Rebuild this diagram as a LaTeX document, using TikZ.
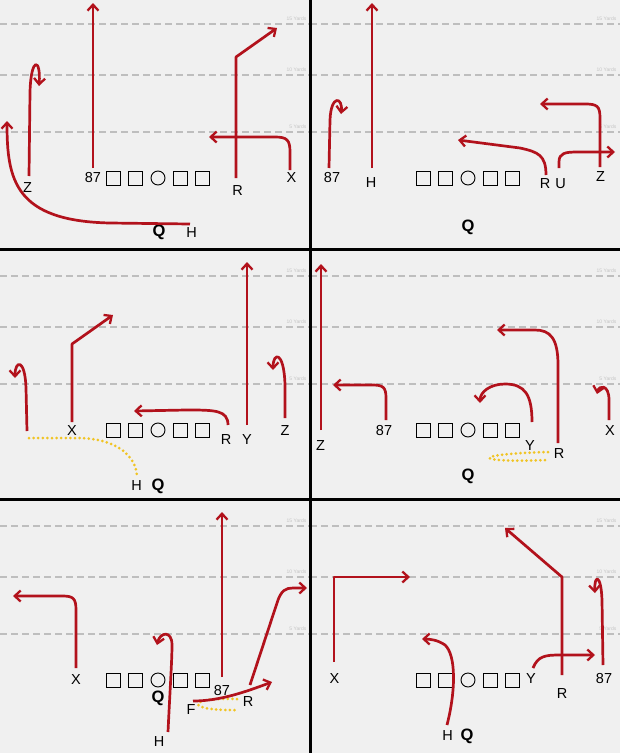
\documentclass[tikz,border=0pt]{standalone}
\usepackage{fontspec}
\setmainfont{Liberation Sans}
\usetikzlibrary{arrows.meta}
\definecolor{routered}{RGB}{178,18,28}
\definecolor{yardgray}{RGB}{190,190,190}
\definecolor{fieldbg}{RGB}{240,240,240}
\definecolor{motionyel}{RGB}{240,196,36}
\definecolor{yardtxt}{RGB}{196,196,196}
\tikzset{
  rte/.style={draw=routered, line width=2.7pt, line join=round,
    -{Straight Barb[length=6pt,width=11pt,line width=2.3pt]}},
  yard/.style={draw=yardgray, line width=2.4pt, dash pattern=on 7pt off 4pt},
  yardlbl/.style={text=yardtxt, font=\fontsize{5}{5}\selectfont, anchor=south east, inner sep=0pt},
  lbox/.style={draw=black, line width=0.9pt, minimum size=14pt, inner sep=0pt, fill=fieldbg},
  lcirc/.style={draw=black, line width=0.9pt, circle, minimum size=14pt, inner sep=0pt, fill=fieldbg},
  player/.style={font=\fontsize{14.5}{14.5}\selectfont, inner sep=0pt},
  qb/.style={font=\fontsize{16.5}{16.5}\bfseries\selectfont, inner sep=0pt},
  motion/.style={draw=motionyel, line width=3pt, dash pattern=on 0pt off 4.6pt, line cap=round},
  divider/.style={draw=black, line width=3pt}
}
\newcommand\fieldpanel[3]{%
  \begin{scope}[shift={(#1,#2)}, name prefix=#3-]
    \foreach \yy/\lab in {24/15,75/10,132/5}{
      \draw[yard] (0,\yy) -- (310,\yy);
      \node[yardlbl] (yl\lab) at (306.5,\yy-3) {\lab\ Yards};
    }
    \node[lbox] (b1) at (113.5,178) {};
    \node[lbox] (b2) at (135.5,178) {};
    \node[lcirc] (c) at (158,178) {};
    \node[lbox] (b4) at (180,178) {};
    \node[lbox] (b5) at (202.5,178) {};
  \end{scope}}
\begin{document}
\begin{tikzpicture}[x=1pt,y=-1pt]
\fill[fieldbg] (0,0) rectangle (620,753);
\useasboundingbox (0,0) rectangle (620,753);
\fieldpanel{0}{0}{pa}
\fieldpanel{310}{0}{pb}
\fieldpanel{0}{252}{pc}
\fieldpanel{310}{252}{pd}
\fieldpanel{0}{502}{pe}
\fieldpanel{310}{502}{pf}

% ---------- panel 1 ----------
\node[player] (a87) at (93,178) {87};
\node[player] (aZ) at (27.5,188) {Z};
\node[player] (aR) at (237.5,191) {R};
\node[player] (aX) at (291.5,178) {X};
\node[qb] (aQ) at (159,232) {Q};
\node[player] (aH) at (191.5,233) {H};
\draw[rte] (93,168) -- (93,3);
\draw[rte] (29,176) -- (30,92) .. controls (31,56) and (41,58) .. (39,86);
\draw[rte] (190,224) -- (110,223) .. controls (15,221) and (7,180) .. (7,121);
\draw[rte] (236,178) -- (236,57) -- (277,28);
\draw[rte] (290,170) -- (290,152) .. controls (290,140) and (287,137) .. (275,137) -- (209,137);

% ---------- panel 2 ----------
\node[player] (b87) at (332,178) {87};
\node[player] (bH) at (371,183) {H};
\node[player] (bR) at (545,184) {R};
\node[player] (bU) at (560.5,184) {U};
\node[player] (bZ) at (600.5,177) {Z};
\node[qb] (bQ) at (468,227) {Q};
\draw[rte] (329,168) -- (330,120) .. controls (331,94) and (343,97) .. (341,114);
\draw[rte] (372,168) -- (372,3);
\draw[rte] (546,175) .. controls (546,155) and (538,152) .. (520,148) -- (458,140);
\draw[rte] (559,168) -- (559,162) .. controls (559,153) and (565,152) .. (578,152) -- (615,152);
\draw[rte] (600,167) -- (600,118) .. controls (600,106) and (597,104) .. (585,104) -- (540,104);

% ---------- panel 3 ----------
\node[player] (cX) at (72,431) {X};
\node[player] (cR) at (226,440) {R};
\node[player] (cY) at (247,440) {Y};
\node[player] (cZ) at (285,431) {Z};
\node[player] (cH) at (136.5,486) {H};
\node[qb] (cQ) at (158,486) {Q};
\draw[motion] (29,438) -- (77,438) .. controls (115,438) and (137,455) .. (137,478);
\draw[rte] (27,431) -- (26,388) .. controls (25,358) and (15,360) .. (15,378);
\draw[rte] (72,422) -- (72,344) -- (113,315);
\draw[rte] (247,425) -- (247,262);
\draw[rte] (228,425) .. controls (228,410) and (215,410) .. (186,410) -- (134,411);
\draw[rte] (285,418) -- (285,385) .. controls (284,350) and (273,352) .. (273,370);

% ---------- panel 4 ----------
\node[player] (dZ) at (320.5,446) {Z};
\node[player] (d87) at (384,431) {87};
\node[player] (dY) at (530,446) {Y};
\node[player] (dR) at (559,454) {R};
\node[player] (dX) at (610,431) {X};
\node[qb] (dQ) at (468,476) {Q};
\draw[motion] (548,452) .. controls (470,454) and (470,463) .. (548,460);
\draw[rte] (321,430) -- (321,264);
\draw[rte] (386,420) -- (386,398) .. controls (386,387) and (383,385) .. (372,385) -- (333,385);
\draw[rte] (532,422) .. controls (532,395) and (525,384) .. (505,384) .. controls (490,384) and (480,392) .. (480,403);
\draw[rte] (558,443) -- (558,365) .. controls (558,338) and (550,330) .. (535,330) -- (497,330);
\draw[rte] (609,420) -- (609,400) .. controls (609,384) and (599,385) .. (597,394);

% ---------- panel 5 ----------
\node[player] (eX) at (76,680) {X};
\node[qb] (eQ) at (158,698) {Q};
\node[player] (e87) at (222,690) {87};
\node[player] (eR) at (248,702) {R};
\node[player] (eF) at (191,710) {F};
\node[player] (eH) at (159,742) {H};
\draw[motion] (237,699) .. controls (185,697) and (185,711) .. (237,710);
\draw[rte] (76,668) -- (76,610) .. controls (76,598) and (73,596) .. (62,596) -- (13,596);
\draw[rte] (222,677) -- (222,512);
\draw[rte] (168,732) .. controls (170,690) and (172,660) .. (172,645) .. controls (172,630) and (160,632) .. (157,645);
\draw[rte] (250,685) -- (277,603) .. controls (281,590) and (286,588) .. (293,588) -- (307,588);
\draw[rte] (193,701) .. controls (220,701) and (245,692) .. (272,682);

% ---------- panel 6 ----------
\node[player] (fX) at (334.5,679) {X};
\node[player] (fY) at (531,679) {Y};
\node[player] (fR) at (562,694) {R};
\node[player] (f87) at (604,678) {87};
\node[player] (fH) at (447.5,736) {H};
\node[qb] (fQ) at (467,736) {Q};
\draw[rte] (334,662) -- (334,577) -- (410,577);
\draw[rte] (447,725) .. controls (456,690) and (456,655) .. (445,645) .. controls (438,640) and (430,639) .. (422,639);
\draw[rte] (533,668) .. controls (538,656) and (545,655) .. (560,655) -- (595,655);
\draw[rte] (562,675) -- (562,577) -- (505,528);
\draw[rte] (603,665) -- (602,600) .. controls (601,573) and (594,575) .. (595,593);

% ---------- dividers ----------
\draw[divider] (310.5,0) -- (310.5,753);
\draw[divider] (0,249.5) -- (620,249.5);
\draw[divider] (0,499) -- (620,499);
\end{tikzpicture}
\end{document}
